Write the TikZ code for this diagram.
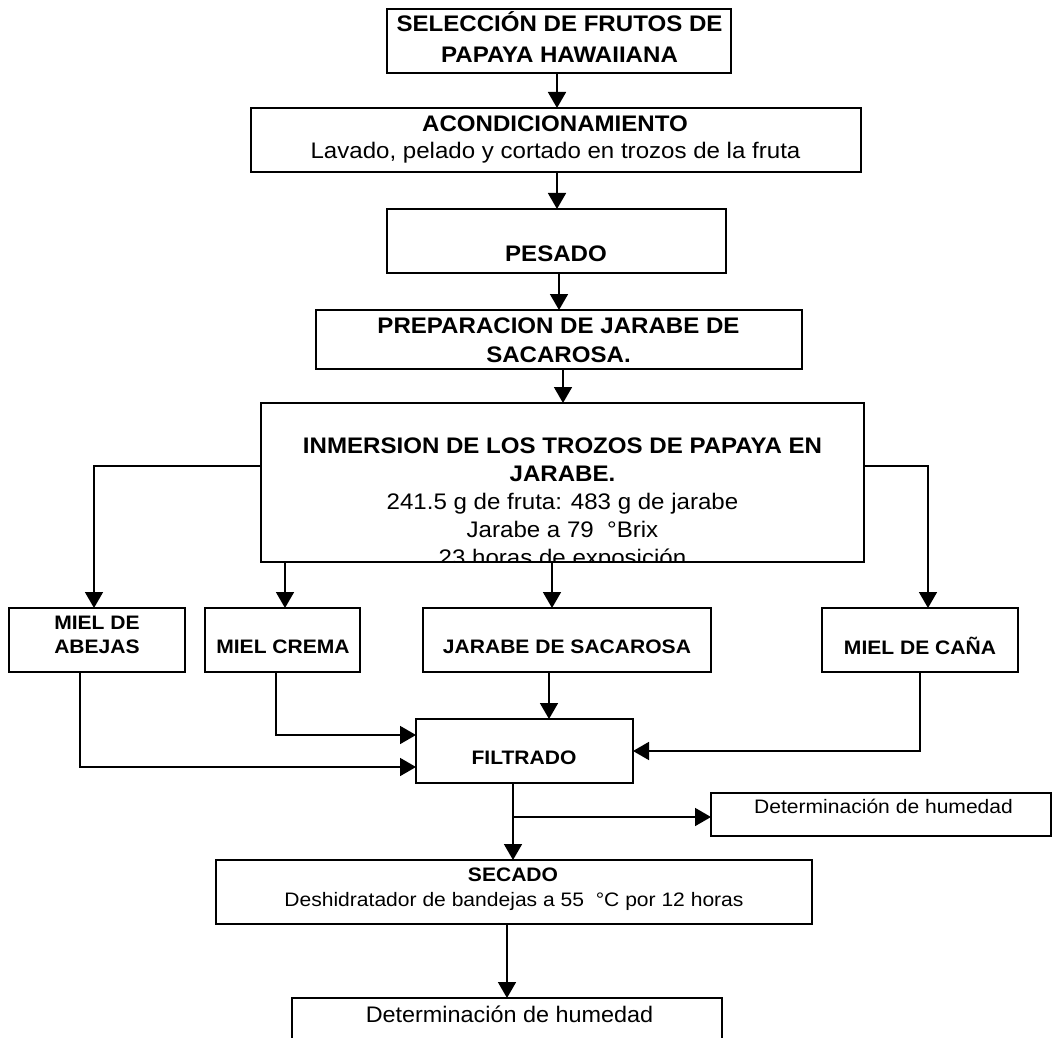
\documentclass[tikz,border=0pt]{standalone}
\usepackage{fontspec}
\setmainfont{Liberation Sans}
\newfontfamily\fa[FakeStretch=1.07]{Liberation Sans}
\newfontfamily\fs[FakeStretch=1.08]{Liberation Sans}
\newfontfamily\fb[FakeStretch=1.04]{Liberation Sans}
\usetikzlibrary{arrows.meta}
\begin{document}
\begin{tikzpicture}[x=1pt,y=-1pt,
  box/.style={draw, line width=2pt, inner sep=0pt, outer sep=0pt},
  arr/.style={line width=1.7pt, -{Triangle[width=18pt,length=16pt]}},
  tbig/.style={font=\fa\fontsize{22.5}{26}\selectfont, inner sep=0pt, anchor=base},
  tbigb/.style={font=\fa\bfseries\fontsize{22.5}{26}\selectfont, inner sep=0pt, anchor=base},
  tsm/.style={font=\fs\fontsize{19.5}{23}\selectfont, inner sep=0pt, anchor=base},
  tsmb/.style={font=\fs\bfseries\fontsize{19.5}{23}\selectfont, inner sep=0pt, anchor=base},
  tdet/.style={font=\fb\fontsize{22.5}{26}\selectfont, inner sep=0pt, anchor=base}]
\fill[white] (0,0) rectangle (1053,1038);
\useasboundingbox (0,0) rectangle (1053,1038);

% boxes
\node[box, minimum width=344pt, minimum height=64pt] (sel)  at (559,41) {};
\node[box, minimum width=610pt, minimum height=64pt] (acon) at (556,140) {};
\node[box, minimum width=339pt, minimum height=64pt] (pes)  at (556.5,241) {};
\node[box, minimum width=486pt, minimum height=59pt] (prep) at (559,339.5) {};
\node[box, minimum width=603pt, minimum height=159pt] (inm) at (562.5,482.5) {};
\node[box, minimum width=176pt, minimum height=64pt] (abe)  at (97,640) {};
\node[box, minimum width=155pt, minimum height=64pt] (cre)  at (282.5,640) {};
\node[box, minimum width=288pt, minimum height=64pt] (jar)  at (567,640) {};
\node[box, minimum width=196pt, minimum height=64pt] (cana) at (920,640) {};
\node[box, minimum width=217pt, minimum height=64pt] (fil)  at (524.5,751) {};
\node[box, minimum width=340pt, minimum height=43pt] (det1) at (881,814.5) {};
\node[box, minimum width=596pt, minimum height=64pt] (sec)  at (514,892) {};
\node[box, minimum width=430pt, minimum height=64pt] (det2) at (507,1030) {};

% texts
\node[tbigb] (t1a) at (559.5,32) {SELECCIÓN DE FRUTOS DE};
\node[tbigb] (t1b) at (559.5,63) {PAPAYA HAWAIIANA};
\node[tbigb] (t2a) at (555,132) {ACONDICIONAMIENTO};
\node[tbig]  (t2b) at (555.5,159) {Lavado, pelado y cortado en trozos de la fruta};
\node[tbigb] (t3)  at (556,261) {PESADO};
\node[tbigb] (t4a) at (558.5,333) {PREPARACION DE JARABE DE};
\node[tbigb] (t4b) at (558.5,362) {SACAROSA.};
\begin{scope}
  \clip (inm.north west) rectangle (inm.south east);
  \node[tbigb] (t5a) at (562.5,453) {INMERSION DE LOS TROZOS DE PAPAYA EN};
  \node[tbigb] (t5b) at (562.5,481) {JARABE.};
  \node[tbig]  (t5c) at (562.5,509) {241.5 g de fruta: 483 g de jarabe};
  \node[tbig]  (t5d) at (562.5,537) {Jarabe a 79\ \ °Brix};
  \node[tbig]  (t5e) at (562.5,565) {23 horas de exposición};
\end{scope}
\node[tsmb] (t6a) at (97,629) {MIEL DE};
\node[tsmb] (t6b) at (97,653) {ABEJAS};
\node[tsmb] (t7)  at (283,653) {MIEL CREMA};
\node[tsmb] (t8)  at (567,653) {JARABE DE SACAROSA};
\node[tsmb] (t9)  at (920,654) {MIEL DE CAÑA};
\node[tsmb] (t10) at (524,764) {FILTRADO};
\node[tsm, anchor=base west] (t11) at (754,813) {Determinación de humedad};
\node[tsmb] (t12a) at (513,881) {SECADO};
\node[tsm]  (t12b) at (514,906) {Deshidratador de bandejas a 55\ \ °C por 12 horas};
\node[tdet] (t13) at (509.5,1022) {Determinación de humedad};

% helper coordinates
\coordinate (X557) at (557,0);
\coordinate (X559) at (559,0);
\coordinate (X563) at (563,0);
\coordinate (X285) at (285,0);
\coordinate (X552) at (552,0);
\coordinate (X549) at (549,0);
\coordinate (X513) at (513,0);
\coordinate (X507) at (507,0);
\coordinate (L1) at (94,466);
\coordinate (R1) at (928,466);
\coordinate (A1) at (80,767);
\coordinate (A2) at (276,735);
\coordinate (A3) at (920,751);
\coordinate (B1) at (513,817);

% connectors
\draw[arr] (sel.south -| X557) -- (acon.north -| X557);
\draw[arr] (acon.south -| X557) -- (pes.north -| X557);
\draw[arr] (pes.south -| X559) -- (prep.north -| X559);
\draw[arr] (prep.south -| X563) -- (inm.north -| X563);
\draw[arr] (inm.west |- L1) -| (abe.north -| L1);
\draw[arr] (inm.east |- R1) -| (cana.north -| R1);
\draw[arr] (inm.south -| X285) -- (cre.north -| X285);
\draw[arr] (inm.south -| X552) -- (jar.north -| X552);
\draw[arr] (abe.south -| A1) |- (fil.west |- A1);
\draw[arr] (cre.south -| A2) |- (fil.west |- A2);
\draw[arr] (jar.south -| X549) -- (fil.north -| X549);
\draw[arr] (cana.south -| A3) |- (fil.east |- A3);
\draw[arr] (fil.south -| X513) -- (sec.north -| X513);
\draw[arr] (B1) -- (det1.west |- B1);
\draw[arr] (sec.south -| X507) -- (det2.north -| X507);
\end{tikzpicture}
\end{document}
